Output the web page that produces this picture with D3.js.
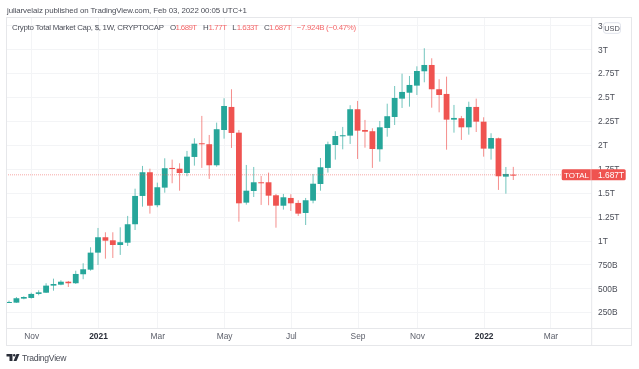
<!DOCTYPE html>
<html>
<head>
<meta charset="utf-8">
<script src="https://cdnjs.cloudflare.com/ajax/libs/d3/7.8.5/d3.min.js"></script>
<style>
html,body{margin:0;padding:0;background:#fff}
svg{display:block;filter:blur(0.3px)}
text{font-family:"Liberation Sans",Arial,sans-serif}
</style>
</head>
<body>
<svg id="c" width="639" height="369"></svg>
<script>
const opens=[.347,.350,.392,.399,.441,.454,.528,.538,.569,.553,.647,.695,.873,1.034,1.002,.953,.977,1.170,1.466,1.714,1.369,1.553,1.759,1.751,1.706,1.874,2.017,2.007,1.787,2.156,2.397,2.128,1.396,1.518,1.609,1.609,1.473,1.364,1.445,1.393,1.288,1.417,1.591,1.759,1.999,2.090,2.097,2.373,2.156,2.143,1.954,2.177,2.292,2.484,2.546,2.620,2.770,2.836,2.582,2.533,2.264,2.279,2.184,2.397,2.243,1.961,2.069,1.668,1.689];
const highs=[.371,.409,.417,.454,.479,.553,.601,.584,.577,.684,.762,.929,1.131,1.086,1.086,1.138,1.257,1.542,1.780,1.751,1.605,1.860,1.846,1.808,1.937,2.069,2.303,2.104,2.233,2.488,2.582,2.156,1.790,1.769,1.675,1.710,1.487,1.487,1.484,1.421,1.445,1.696,1.863,2.034,2.143,2.188,2.415,2.460,2.261,2.174,2.250,2.431,2.616,2.745,2.721,2.822,3.011,2.906,2.687,2.714,2.418,2.303,2.452,2.484,2.289,2.122,2.076,1.769,1.770];
const lows=[.347,.347,.385,.392,.427,.451,.475,.532,.514,.545,.595,.684,.744,.810,.817,.849,.943,1.110,1.354,1.281,1.348,1.500,1.599,1.521,1.672,1.783,1.759,1.644,1.772,2.065,1.968,1.197,1.375,1.455,1.372,1.369,1.134,1.323,1.309,1.257,1.162,1.389,1.521,1.710,1.846,1.954,2.010,1.853,1.971,1.759,1.825,2.086,2.208,2.386,2.400,2.522,2.655,2.389,2.341,1.950,2.128,2.052,2.107,2.135,1.877,1.846,1.529,1.490,1.633];
const closes=[.357,.396,.409,.441,.458,.528,.545,.569,.553,.650,.699,.873,1.034,.998,.953,.982,1.170,1.466,1.714,1.364,1.557,1.756,1.748,1.706,1.877,2.013,2.007,1.787,2.164,2.407,2.125,1.389,1.521,1.609,1.605,1.469,1.364,1.452,1.389,1.281,1.421,1.594,1.766,2.007,2.093,2.101,2.373,2.149,2.138,1.957,2.184,2.300,2.491,2.554,2.627,2.773,2.836,2.582,2.522,2.264,2.282,2.184,2.397,2.243,1.961,2.072,1.672,1.696,1.687];
const priceTicks=[3.25,3,2.75,2.5,2.25,2,1.75,1.5,1.25,1,.75,.5,.25];
const priceLabels=["3.","3T","2.75T","2.5T","2.25T","2T","1.75T","1.5T","1.25T","1T","750B","500B","250B"];
const timeTicks=[3,12,20,29,38,47,55,64,73];
const timeLabels=["Nov","2021","Mar","May","Jul","Sep","Nov","2022","Mar"];
const legendParts=[["Crypto Total Market Cap, $, 1W, CRYPTOCAP",12,"#4a4d57",152],["O",170,"#4a4d57",5],["1.689T",175.5,"#f4686a",21.5],["H",203,"#4a4d57",5.5],["1.77T",208.5,"#f4686a",18.5],["L",232.3,"#4a4d57",4],["1.633T",236.7,"#f4686a",22],["C",264,"#4a4d57",5],["1.687T",269,"#f4686a",22.5],["\u22127.924B (\u22120.47%)",296.7,"#f4686a",59.5]];
const lastClose=1.687;

const UP="#26a69a",DOWN="#ef5350";
const L=6,R=632,T=17,B=346,AX=591.7,TA=328;
const svg=d3.select("#c");
const x=d3.scaleLinear().domain([0,68]).range([9,513.3]);
const y=d3.scaleLinear().domain([0,3]).range([49.3+3*95.6,49.3]);
const grid="#f3f4f6",frame="#e6e7ea";

svg.append("g").selectAll("line").data(priceTicks).join("line")
 .attr("x1",L).attr("x2",AX).attr("y1",d=>Math.round(y(d))+.5).attr("y2",d=>Math.round(y(d))+.5).attr("stroke",grid);
svg.append("g").selectAll("line").data(timeTicks).join("line")
 .attr("x1",d=>Math.round(x(d))+.5).attr("x2",d=>Math.round(x(d))+.5).attr("y1",T).attr("y2",TA).attr("stroke",grid);

const idx=d3.range(opens.length);
const col=i=>closes[i]>=opens[i]?UP:DOWN;
svg.append("g").selectAll("line").data(idx).join("line")
 .attr("x1",i=>x(i)).attr("x2",i=>x(i)).attr("y1",i=>y(highs[i])).attr("y2",i=>y(lows[i]))
 .attr("stroke",col).attr("stroke-width",1).attr("stroke-opacity",.65);
svg.append("g").selectAll("rect").data(idx).join("rect")
 .attr("x",i=>x(i)-2.9).attr("width",5.8)
 .attr("y",i=>y(Math.max(opens[i],closes[i])))
 .attr("height",i=>Math.max(1,Math.abs(y(opens[i])-y(closes[i]))))
 .attr("fill",col);

svg.append("line").attr("x1",L).attr("x2",562).attr("y1",y(lastClose)).attr("y2",y(lastClose))
 .attr("stroke",DOWN).attr("stroke-opacity",.5).attr("stroke-dasharray","1 1");

svg.append("rect").attr("x",L+.5).attr("y",T+.5).attr("width",R-L-1).attr("height",B-T-1).attr("fill","none").attr("stroke",frame);
svg.append("line").attr("x1",AX).attr("x2",AX).attr("y1",T).attr("y2",B).attr("stroke",frame);
svg.append("line").attr("x1",L).attr("x2",R).attr("y1",TA+.5).attr("y2",TA+.5).attr("stroke",frame);

const yAxis=d3.axisRight(y).tickValues(priceTicks).tickSize(0).tickPadding(0).tickFormat((d,i)=>priceLabels[i]);
const gy=svg.append("g").attr("transform","translate(598,0)").call(yAxis);
gy.select(".domain").remove();
gy.selectAll("text").attr("font-size",8.4).attr("fill","#4a4d57").style("font-family",'"Liberation Sans",sans-serif');

const xAxis=d3.axisBottom(x).tickValues(timeTicks).tickSize(0).tickPadding(0).tickFormat((d,i)=>timeLabels[i]);
const gx=svg.append("g").attr("transform","translate(0,333)").call(xAxis);
gx.select(".domain").remove();
gx.selectAll("text").attr("font-size",8.4).attr("fill",(d,i)=>/^20/.test(timeLabels[i])?"#2a2e39":"#5d606b")
 .attr("font-weight",(d,i)=>/^20/.test(timeLabels[i])?"700":"400").style("font-family",'"Liberation Sans",sans-serif');

svg.append("rect").attr("x",603.5).attr("y",22.7).attr("width",17).attr("height",10.6).attr("rx",2.5).attr("fill","#fff").attr("stroke","#e0e3eb");
svg.append("text").attr("x",612).attr("y",30.6).attr("text-anchor","middle").attr("font-size",7.4).attr("fill","#4a4d57").text("USD");

svg.append("rect").attr("x",561.7).attr("y",169.3).attr("width",64).attr("height",11).attr("rx",1.5).attr("fill",DOWN);
svg.append("line").attr("x1",591).attr("x2",591).attr("y1",169.3).attr("y2",180.3).attr("stroke","#fff").attr("stroke-opacity",.5);
svg.append("text").attr("x",576.5).attr("y",178).attr("text-anchor","middle").attr("font-size",8).attr("fill","#fff").text("TOTAL");
svg.append("text").attr("x",598).attr("y",178).attr("font-size",8.4).attr("fill","#fff").text("1.687T");

svg.append("text").attr("x",7).attr("y",12.5).attr("font-size",7.9).attr("textLength",240).attr("lengthAdjust","spacing").attr("fill","#4a4d57").text("juliarvelaiz published on TradingView.com, Feb 03, 2022 00:05 UTC+1");
svg.append("g").selectAll("text").data(legendParts).join("text").attr("x",d=>d[1]).attr("y",30).attr("font-size",7.9).attr("textLength",d=>d[3]).attr("lengthAdjust","spacing").attr("fill",d=>d[2]).text(d=>d[0]);

const logo=svg.append("g").attr("fill","#2a2e39");
logo.append("path").attr("d","M6.5 354H12.5V361H9.5V356.5H6.5Z");
logo.append("circle").attr("cx",14.2).attr("cy",355.3).attr("r",1.2);
logo.append("path").attr("d","M16.5 354H19.5L16.5 361H13.5Z");
svg.append("text").attr("x",22).attr("y",360.5).attr("font-size",8.6).attr("textLength",44.5).attr("lengthAdjust","spacing").attr("fill","#4a4d57").text("TradingView");
</script>
</body>
</html>
